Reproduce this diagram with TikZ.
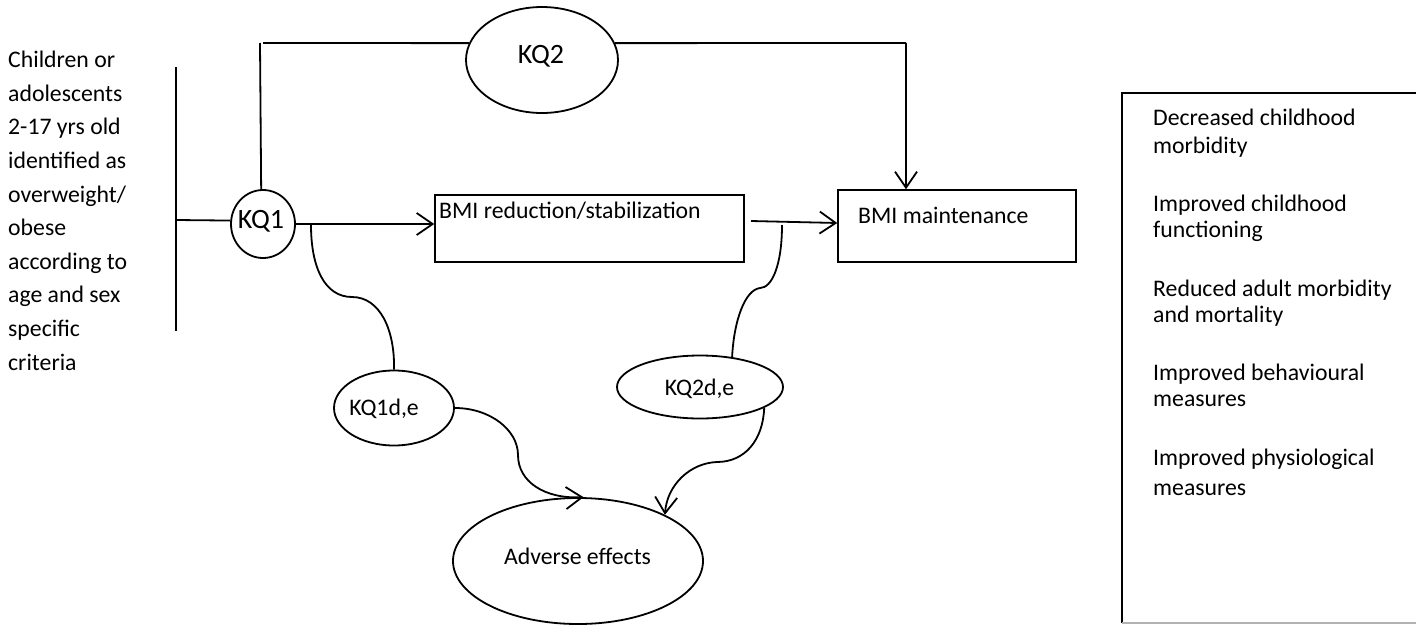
\documentclass[tikz,border=0pt]{standalone}
\usepackage{fontspec}
\setmainfont{Carlito}
\usetikzlibrary{arrows.meta,shapes.geometric,calc}
\begin{document}
\begin{tikzpicture}[x=1pt,y=-1pt,
  ln/.style={line width=1.8pt},
  arr/.style={line width=1.8pt,-{Straight Barb[length=16pt,width=22pt]}},
  oval/.style={ellipse,draw,line width=1.8pt,inner sep=0pt},
  bx/.style={draw,line width=1.5pt,rectangle,inner sep=0pt},
  txt/.style={font=\fontsize{23.75}{28}\selectfont,inner sep=0pt},
  big/.style={font=\fontsize{28}{32}\selectfont,inner sep=0pt}]
\useasboundingbox (0,0) rectangle (1416,624);
\clip (0,0) rectangle (1416,624);

% population text
\foreach \t [count=\i] in {Children or,adolescents,2-17 yrs old,identified as,overweight/,obese,according to,age and sex,specific,criteria}
  \node[txt,anchor=base west] (pop\i) at (8,{67.7+33.6*(\i-1)}) {\t};

% outcomes text
\foreach \t/\yy [count=\i] in {Decreased childhood/125.5,morbidity/153,Improved childhood/211,functioning/237,Reduced adult morbidity/296.5,and mortality/322,Improved behavioural/380,measures/406,Improved physiological/465,measures/495}
  \node[txt,anchor=base west] (out\i) at (1153,\yy) {\t};

% outcomes box
\coordinate (ob1) at (1122,623);
\coordinate (ob2) at (1122,93);
\coordinate (ob3) at (1420,93);
\coordinate (ob4) at (1420,623);
\draw[line width=2pt] (ob1) -- (ob2) -- (ob3);
\draw[line width=1.5pt,black!30] (ob1) -- (ob4);

% population bar
\coordinate (b1) at (176,67);
\coordinate (b2) at (176,331);
\coordinate (bj) at (176,220);
\draw[ln] (b1) -- (b2);

% nodes
\node[oval,minimum width=64pt,minimum height=68pt] (kq1) at (263,224) {};
\node[big,anchor=base] (kq1t) at (261,228.3) {KQ1};
\node[oval,minimum width=152pt,minimum height=106pt] (kq2) at (542,60) {};
\node[big,anchor=base] (kq2t) at (541,63.3) {KQ2};
\node[bx,minimum width=309pt,minimum height=67pt] (bmired) at (589.5,228.5) {};
\node[txt,anchor=base west] (bmiredt) at (439,218) {BMI reduction/stabilization};
\node[bx,minimum width=238pt,minimum height=72pt] (bmimain) at (957,226) {};
\node[txt,anchor=base west] (bmimaint) at (858,223.3) {BMI maintenance};
\node[oval,minimum width=120pt,minimum height=75pt] (kq1de) at (394,408) {};
\node[txt,anchor=base] (kq1det) at (384,415) {KQ1d,e};
\node[oval,minimum width=166pt,minimum height=63pt] (kq2de) at (700,387) {};
\node[txt,anchor=base] (kq2det) at (699.5,395.7) {KQ2d,e};
\node[oval,minimum width=250pt,minimum height=126pt] (adv) at (578,561) {};
\node[txt,anchor=base] (advt) at (577.5,564.3) {Adverse effects};

% connectors
\draw[ln] (bj) -- (kq1.174);
\coordinate (c1) at (260,43);
\coordinate (c1b) at (263,43);
\draw[ln] (kq1.93) -- (c1);
\draw[ln] (c1b) -- (kq2.167);
\coordinate (c2) at (906,43);
\draw[ln] (kq2.13) -- (c2);
\draw[arr] (c2) -- (bmimain.north -| c2);

\draw[arr] (kq1.east) -- (kq1.east -| bmired.west);
\coordinate (r1) at (751,221);
\draw[arr] (r1) -- ([yshift=3pt]bmimain.west);

\coordinate (s1) at (311,225);
\draw[ln] (s1) .. controls (311,268) and (325,297) .. (352,297)
  .. controls (380,297) and (395,330) .. (kq1de.north);
\draw[arr] (kq1de.east) .. controls (490,408) and (518,430) .. (518,455)
  .. controls (518,482) and (545,499) .. (adv.85);

\coordinate (s2) at (782,225);
\draw[ln] (s2) .. controls (782,265) and (772,288) .. (760,288)
  .. controls (745,290) and (734,320) .. (kq2de.43);
\draw[arr] (kq2de.-18.4) .. controls (763,440) and (745,462) .. (717,462)
  .. controls (690,463) and (667,485) .. (adv.28);
\end{tikzpicture}
\end{document}
